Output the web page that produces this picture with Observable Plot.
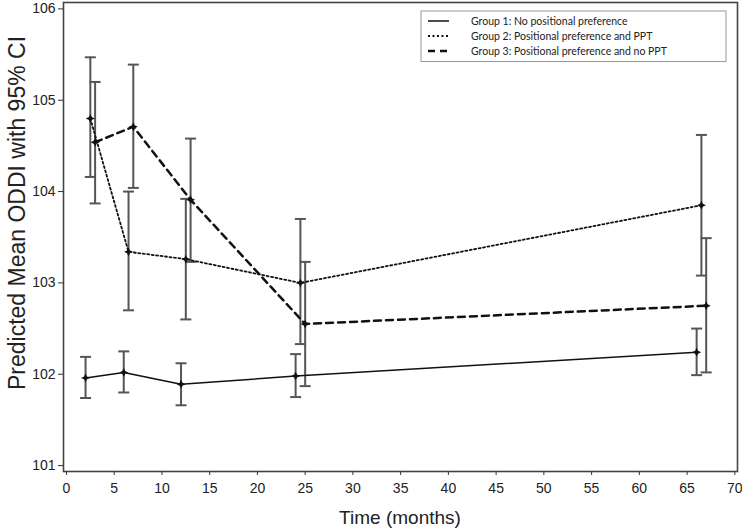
<!DOCTYPE html>
<html><head><meta charset="utf-8">
<script src="https://cdn.jsdelivr.net/npm/d3@7"></script>
<script src="https://cdn.jsdelivr.net/npm/@observablehq/plot@0.6"></script>
<style>body{margin:0;background:#fff} #chart{width:742px;height:528px}</style>
</head><body><div id="chart"></div>
<script>
const groupNames = [
  "Group 1: No positional preference",
  "Group 2: Positional preference and PPT",
  "Group 3: Positional preference and no PPT"
];
const g1Time = [2, 6, 12, 24, 66];
const g1Mean = [101.96, 102.02, 101.89, 101.98, 102.24];
const g1Lo   = [101.74, 101.80, 101.66, 101.75, 101.99];
const g1Hi   = [102.19, 102.25, 102.12, 102.22, 102.50];

const g2Time = [2.5, 6.5, 12.5, 24.5, 66.5];
const g2Mean = [104.80, 103.34, 103.26, 103.00, 103.85];
const g2Lo   = [104.16, 102.70, 102.60, 102.33, 103.08];
const g2Hi   = [105.47, 104.00, 103.92, 103.70, 104.62];

const g3Time = [3, 7, 13, 25, 67];
const g3Mean = [104.54, 104.71, 103.91, 102.55, 102.75];
const g3Lo   = [103.87, 104.04, 103.23, 101.87, 102.02];
const g3Hi   = [105.20, 105.39, 104.58, 103.23, 103.49];

const xTicks = [0, 5, 10, 15, 20, 25, 30, 35, 40, 45, 50, 55, 60, 65, 70];
const yTicks = [101, 102, 103, 104, 105, 106];
const xTitle = "Time (months)";
const yTitle = "Predicted Mean ODDI with 95% CI";

function rows(group, t, m, lo, hi) {
  return t.map((x, i) => ({group, t: x, mean: m[i], lo: lo[i], hi: hi[i]}));
}
const g1 = rows(groupNames[0], g1Time, g1Mean, g1Lo, g1Hi);
const g2 = rows(groupNames[1], g2Time, g2Mean, g2Lo, g2Hi);
const g3 = rows(groupNames[2], g3Time, g3Mean, g3Lo, g3Hi);
const all = [...g1, ...g2, ...g3];

const capSymbol = {draw(ctx, size) { const w = 5.5; ctx.moveTo(-w, 0); ctx.lineTo(w, 0); }};
const starSymbol = {draw(ctx, size) {
  const r = Math.sqrt(size / Math.PI), k = r * 0.32;
  ctx.moveTo(0, -r); ctx.lineTo(k, -k); ctx.lineTo(r, 0); ctx.lineTo(k, k);
  ctx.lineTo(0, r); ctx.lineTo(-k, k); ctx.lineTo(-r, 0); ctx.lineTo(-k, -k); ctx.closePath();
}};

const plot = Plot.plot({
  width: 742, height: 528,
  marginLeft: 63, marginRight: 5, marginTop: 2, marginBottom: 57,
  style: {fontFamily: "'Liberation Sans', Arial, sans-serif", fontSize: "14px", color: "#333", background: "#fff"},
  x: {domain: [-0.31, 70.28]},
  y: {domain: [100.935, 106.07]},
  marks: [
    Plot.frame({stroke: "#444", strokeWidth: 1.6}),
    Plot.axisX({ticks: xTicks, tickFormat: d => String(d), tickSize: 4, tickPadding: 8, label: null, fill: "#222"}),
    Plot.axisY({ticks: yTicks, tickFormat: d => String(d), tickSize: 5, tickPadding: 3, label: null, fill: "#222"}),
    Plot.ruleX(all, {x: "t", y1: "lo", y2: "hi", stroke: "#555", strokeWidth: 2}),
    Plot.dot(all, {x: "t", y: "lo", symbol: capSymbol, r: 3, fill: "none", stroke: "#555", strokeWidth: 2}),
    Plot.dot(all, {x: "t", y: "hi", symbol: capSymbol, r: 3, fill: "none", stroke: "#555", strokeWidth: 2}),
    Plot.line(g1, {x: "t", y: "mean", stroke: "#111", strokeWidth: 1.5}),
    Plot.line(g2, {x: "t", y: "mean", stroke: "#111", strokeWidth: 1.8, strokeDasharray: "2,2.5"}),
    Plot.line(g3, {x: "t", y: "mean", stroke: "#111", strokeWidth: 2.5, strokeDasharray: "7,5"}),
    Plot.dot(all, {x: "t", y: "mean", symbol: starSymbol, r: 4.5, fill: "#111", stroke: "none"})
  ]
});

const svg = d3.select(plot);
svg.append("text").attr("x", 400).attr("y", 517).attr("dy", "0.35em")
  .attr("text-anchor", "middle").attr("font-size", 19).attr("fill", "#222").text(xTitle);
svg.append("text").attr("transform", "translate(17,213) rotate(-90)").attr("dy", "0.35em")
  .attr("text-anchor", "middle").attr("font-size", 23).attr("fill", "#222").text(yTitle);

const lg = svg.append("g").attr("font-family", "Lato, 'Open Sans', sans-serif").attr("font-size", 10.5)
  .attr("fill", "#222").attr("text-anchor", "start");
lg.append("rect").attr("x", 421).attr("y", 11).attr("width", 305).attr("height", 50.5)
  .attr("fill", "#fff").attr("stroke", "#999").attr("stroke-width", 1);
const dashes = [null, "2,2.5", "7,5"];
const widths = [1.5, 1.8, 2.5];
groupNames.forEach((name, i) => {
  const y = 21 + i * 15;
  const ln = lg.append("line").attr("x1", 428).attr("x2", 449).attr("y1", y).attr("y2", y)
    .attr("stroke", "#111").attr("stroke-width", widths[i]);
  if (dashes[i]) ln.attr("stroke-dasharray", dashes[i]);
  lg.append("text").attr("x", 471).attr("y", y).attr("dy", "0.35em").attr("text-anchor", "start").text(name);
});

document.getElementById("chart").appendChild(plot);
</script>
</body></html>
